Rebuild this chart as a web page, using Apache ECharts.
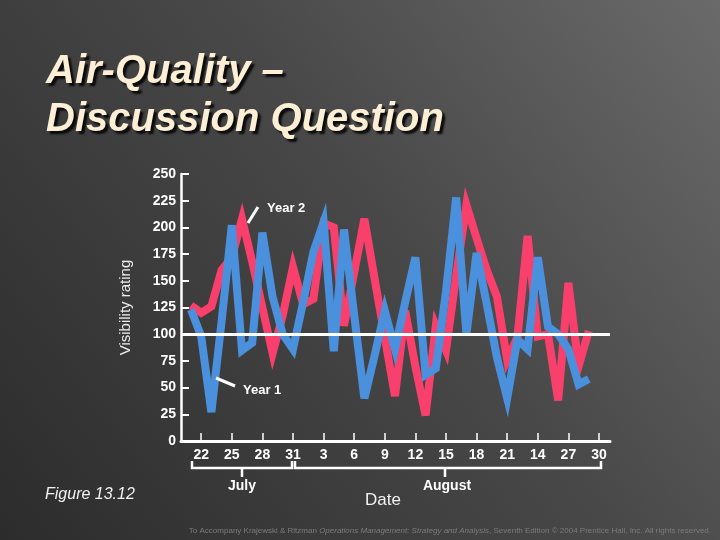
<!DOCTYPE html>
<html>
<head>
<meta charset="utf-8">
<script src="https://cdn.jsdelivr.net/npm/echarts@6/dist/echarts.min.js"></script>
<style>html,body{margin:0;padding:0;}#c{width:720px;height:540px;}</style>
</head>
<body>
<div id="c"></div>
<script>
// Day index of each observation (0..39)
const year1 = [123, 98, 27, 112, 202, 85, 92, 195, 135, 100, 86, 130, 177, 205, 84, 198, 118, 40, 80, 122,
               86, 130, 172, 62, 68, 140, 228, 100, 176, 128, 78, 40, 95, 86, 172, 107, 100, 86, 53, 58];
const year2 = [127, 120, 126, 160, 172, 208, 168, 125, 82, 118, 163, 128, 133, 204, 200, 108, 158, 208, 152, 97,
               42, 122, 70, 24, 108, 85, 155, 221, 190, 160, 135, 76, 97, 192, 98, 100, 38, 148, 70, 103];
const tickLabels = ['22', '25', '28', '31', '3', '6', '9', '12', '15', '18', '21', '14', '27', '30'];
const yTicks = [0, 25, 50, 75, 100, 125, 150, 175, 200, 225, 250];
const referenceLevel = 100;

const tickDays = tickLabels.map((_, k) => 1 + 3 * k);

const chart = echarts.init(document.getElementById('c'));
const white = '#ffffff';
const font = 'Liberation Sans, Arial, sans-serif';

chart.setOption({
  backgroundColor: {
    type: 'linear', x: 1, y: 0, x2: 0, y2: 1,
    colorStops: [
      { offset: 0, color: '#6a6a6a' },
      { offset: 0.45, color: '#484848' },
      { offset: 1, color: '#2c2c2c' }
    ]
  },
  animation: false,
  title: {
    text: 'Air-Quality –\nDiscussion Question',
    left: 41, top: 43,
    textStyle: {
      fontFamily: font, fontSize: 40, fontStyle: 'italic', fontWeight: 'bold',
      color: '#fcefd5', lineHeight: 48,
      textShadowColor: 'rgba(0,0,0,0.85)', textShadowOffsetX: 3, textShadowOffsetY: 3, textShadowBlur: 2
    }
  },
  grid: { left: 181, right: 110, top: 174, bottom: 99, containLabel: false, outerBoundsMode: 'none' },
  xAxis: {
    type: 'value', min: -0.98, max: 41.08,
    axisLine: { show: true, onZero: false, lineStyle: { color: white, width: 3 } },
    axisTick: { show: true, inside: true, length: 8, customValues: tickDays, lineStyle: { color: white, width: 1.5 } },
    axisLabel: {
      show: true, customValues: tickDays, margin: 7,
      color: white, fontFamily: font, fontWeight: 'bold', fontSize: 14,
      formatter: v => tickLabels[tickDays.indexOf(Math.round(v))] || ''
    },
    splitLine: { show: false }
  },
  yAxis: {
    type: 'value', min: 0, max: 250, interval: 25,
    name: 'Visibility rating', nameLocation: 'middle', nameGap: 48,
    nameTextStyle: { color: '#ececec', fontFamily: font, fontSize: 15 },
    axisLine: { show: true, onZero: false, lineStyle: { color: white, width: 2.5 } },
    axisTick: { show: true, inside: true, length: 8, lineStyle: { color: white, width: 2 } },
    axisLabel: {
      color: white, fontFamily: font, fontWeight: 'bold', fontSize: 14, margin: 5,
      customValues: yTicks
    },
    splitLine: { show: false }
  },
  series: [
    {
      name: 'Year 2', type: 'line', data: year2.map((v, i) => [i, v]),
      showSymbol: false, symbol: 'none',
      lineStyle: { color: '#f9406c', width: 8, join: 'miter', miterLimit: 5.5 },
      z: 2
    },
    {
      name: 'Year 1', type: 'line', data: year1.map((v, i) => [i, v]),
      showSymbol: false, symbol: 'none',
      lineStyle: { color: '#4b90dc', width: 8, join: 'miter', miterLimit: 5.5 },
      z: 3,
      markLine: {
        silent: true, symbol: 'none', label: { show: false },
        lineStyle: { color: white, width: 3, type: 'solid' },
        data: [{ yAxis: referenceLevel }],
        z: 10
      }
    }
  ],
  graphic: [
    // series annotations
    { type: 'line', shape: { x1: 248, y1: 223, x2: 258, y2: 207 }, style: { stroke: white, lineWidth: 3 }, z: 20 },
    { type: 'text', x: 267, y: 208, style: { text: 'Year 2', fill: white, font: 'bold 13px ' + font, textVerticalAlign: 'middle' }, z: 20 },
    { type: 'line', shape: { x1: 216, y1: 378, x2: 235, y2: 386 }, style: { stroke: white, lineWidth: 3 }, z: 20 },
    { type: 'text', x: 243, y: 390, style: { text: 'Year 1', fill: white, font: 'bold 13px ' + font, textVerticalAlign: 'middle' }, z: 20 },
    // month brackets
    { type: 'polyline', shape: { points: [[192, 461], [192, 468], [292, 468], [292, 461]] }, style: { stroke: white, lineWidth: 2.5, fill: null } },
    { type: 'line', shape: { x1: 242, y1: 468, x2: 242, y2: 477 }, style: { stroke: white, lineWidth: 2.5 } },
    { type: 'polyline', shape: { points: [[295, 461], [295, 468], [601, 468], [601, 461]] }, style: { stroke: white, lineWidth: 2.5, fill: null } },
    { type: 'line', shape: { x1: 445, y1: 468, x2: 445, y2: 477 }, style: { stroke: white, lineWidth: 2.5 } },
    { type: 'text', x: 242, y: 486, style: { text: 'July', fill: white, font: 'bold 14px ' + font, textAlign: 'center', textVerticalAlign: 'middle' } },
    { type: 'text', x: 447, y: 486, style: { text: 'August', fill: white, font: 'bold 14px ' + font, textAlign: 'center', textVerticalAlign: 'middle' } },
    { type: 'text', x: 383, y: 500, style: { text: 'Date', fill: '#f2f2f2', font: '17px ' + font, textAlign: 'center', textVerticalAlign: 'middle' } },
    { type: 'text', x: 45, y: 495, style: { text: 'Figure 13.12', fill: '#f2f2f2', font: 'italic 16px ' + font, textVerticalAlign: 'middle' } },
    {
      type: 'text', x: 711, y: 531,
      style: {
        text: '{n|To Accompany Krajewski & Ritzman }{i|Operations Management: Strategy and Analysis}{n|, Seventh Edition © 2004 Prentice Hall, Inc. All rights reserved.}',
        textAlign: 'right', textVerticalAlign: 'middle',
        rich: {
          n: { fill: '#7c7c7c', fontSize: 8, fontFamily: font },
          i: { fill: '#7c7c7c', fontSize: 8, fontFamily: font, fontStyle: 'italic' }
        }
      }
    }
  ]
});
</script>
</body>
</html>
